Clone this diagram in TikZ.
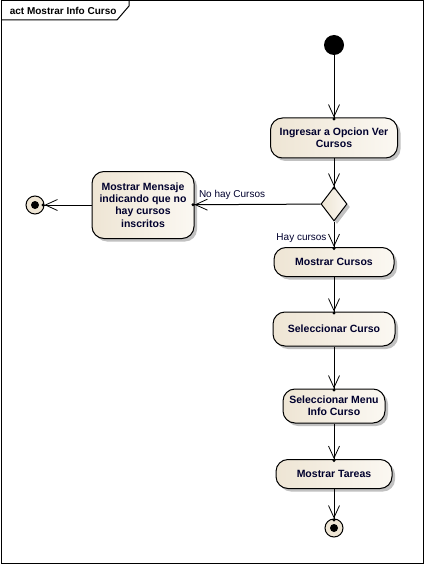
\documentclass[tikz,border=0pt]{standalone}
\usepackage{fontspec}
\setmainfont{Liberation Sans}
\usetikzlibrary{arrows.meta,shapes.geometric,shadows}

\definecolor{beigeL}{RGB}{238,229,212}
\definecolor{beigeR}{RGB}{251,248,242}
\definecolor{labelblue}{RGB}{0,0,45}

\begin{document}
\begin{tikzpicture}[
        x = 1pt, y = -1pt,
        line width = 1pt,
        font = \fontsize{10}{12.3}\selectfont,
        act/.style = {
          rectangle, rounded corners = 12pt, draw = black,
          left color = beigeL, right color = beigeR,
          drop shadow = {shadow xshift = 3pt, shadow yshift = -3pt, fill = gray!70, opacity = .7},
          align = center, font = \fontsize{10.5}{12.3}\selectfont\bfseries,
          text = labelblue, inner sep = 0pt,
        },
        dec/.style = {
          diamond, draw = black, inner sep = 0pt,
          left color = beigeL, right color = beigeR,
          drop shadow = {shadow xshift = 3pt, shadow yshift = -3pt, fill = gray!70, opacity = .7},
          minimum width = 26pt, minimum height = 34pt,
        },
        startnode/.style = {circle, fill = black, minimum size = 20pt, inner sep = 0pt},
        endnode/.style = {
          circle, draw = black, fill = beigeL, minimum size = 18pt, inner sep = 0pt,
          path picture = {\fill[black] (path picture bounding box.center) circle (4pt);},
        },
        flow/.style = {-{Straight Barb[length = 12pt, width = 11pt, line width = 0.8pt] Circle[length = 3pt, sep = -3pt]}},
        lbl/.style = {text = labelblue, inner sep = 0pt},
      ]

      \useasboundingbox (0,0) rectangle (425,564);

      % frame
      \draw (1,1) rectangle (423,563);
      \draw (1,20) to (117,20) to (129,6) to (129,1);
      \node[anchor = base west, font = \fontsize{10}{12}\selectfont\bfseries] (title) at (6,15) {act Mostrar Info Curso};

      % nodes
      \node[startnode] (init) at (334,45) {};
      \node[act, minimum width = 127pt, minimum height = 40pt] (ingresar) at (334,138) {Ingresar a Opcion Ver\\Cursos};
      \node[dec] (choice) at (334,204) {};
      \node[act, minimum width = 102pt, minimum height = 67pt] (mensaje) at (143,205) {Mostrar Mensaje\\indicando que no\\hay cursos\\inscritos};
      \node[endnode] (finL) at (35,205) {};
      \node[act, minimum width = 120pt, minimum height = 29pt] (mostrar) at (334,262) {Mostrar Cursos};
      \node[act, minimum width = 122pt, minimum height = 34pt] (selCurso) at (334,329) {Seleccionar Curso};
      \node[act, minimum width = 102pt, minimum height = 34pt] (selMenu) at (334,406) {Seleccionar Menu\\Info Curso};
      \node[act, minimum width = 116pt, minimum height = 29pt] (tareas) at (334,474) {Mostrar Tareas};
      \node[endnode] (finB) at (334,528) {};

      % flows
      \draw[flow] (init) to (ingresar);
      \draw[flow] (ingresar) to (choice);
      \draw[flow] (choice) to node[lbl, pos = 1, anchor = south west, xshift = 4pt, yshift = 5pt] {No hay Cursos} (mensaje);
      \draw[flow] (mensaje) to (finL);
      \draw[flow] (choice) to node[lbl, pos = .65, left = 7pt] {Hay cursos} (mostrar);
      \draw[flow] (mostrar) to (selCurso);
      \draw[flow] (selCurso) to (selMenu);
      \draw[flow] (selMenu) to (tareas);
      \draw[flow] (tareas) to (finB);
    \end{tikzpicture}
\end{document}
